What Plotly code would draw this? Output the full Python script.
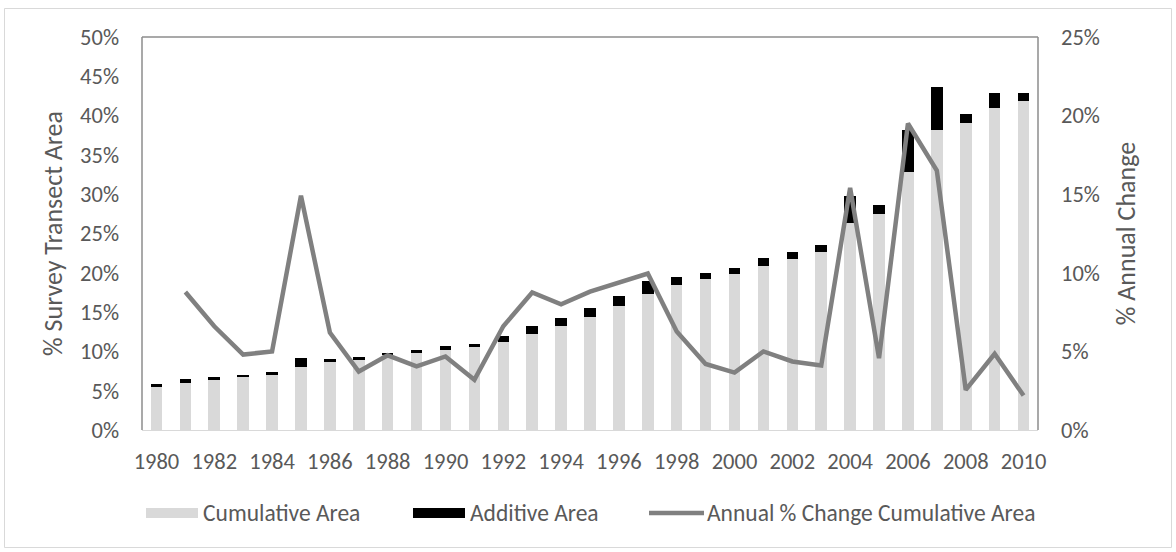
import plotly.graph_objects as go

years = list(range(1980, 2011))
cumulative_pct = [5.45, 5.96, 6.34, 6.72, 7.02, 8.07, 8.63, 8.97, 9.48, 9.82,
                  10.24, 10.59, 11.26, 12.24, 13.27, 14.37, 15.73, 17.35, 18.41, 19.22,
                  19.9, 20.83, 21.77, 22.7, 26.28, 27.42, 32.82, 38.2, 39.1, 41.0, 41.9]
additive_pct = [0.38, 0.54, 0.46, 0.33, 0.38, 1.07, 0.46, 0.34, 0.30, 0.34,
                0.47, 0.29, 0.73, 1.03, 0.93, 1.19, 1.36, 1.57, 1.07, 0.72,
                0.70, 1.07, 0.93, 0.90, 3.48, 1.19, 5.32, 5.40, 1.10, 1.90, 0.96]
change_years = list(range(1981, 2011))
annual_change_pct = [8.78, 6.6, 4.8, 5.0, 14.9, 6.2, 3.72, 4.75, 4.05, 4.68,
                     3.2, 6.6, 8.75, 8.0, 8.8, 9.4, 9.95, 6.27, 4.2, 3.65,
                     5.0, 4.36, 4.1, 15.4, 4.57, 19.5, 16.5, 2.55, 4.85, 2.19]

FONT = "Carlito, Calibri, Lato, sans-serif"
TXT = "#595959"
TICK_SIZE = 22.5
LEG_SIZE = 23.5
TITLE_SIZE = 26

fig = go.Figure()
fig.add_trace(go.Bar(x=years, y=[v / 100 for v in cumulative_pct], name="Cumulative Area",
                     marker=dict(color="#d9d9d9", line=dict(width=0)), yaxis="y"))
fig.add_trace(go.Bar(x=years, y=[v / 100 for v in additive_pct], name="Additive Area",
                     marker=dict(color="#000000", line=dict(width=0)), yaxis="y"))
fig.add_trace(go.Scatter(x=change_years, y=[v / 100 for v in annual_change_pct],
                         name="Annual % Change Cumulative Area", mode="lines",
                         line=dict(color="#808080", width=4.5), yaxis="y2"))

W, H = 1176, 552
L, R, T, B = 142, 138, 37, 122
pw, ph = W - L - R, H - T - B

def px_x(p):
    return (p - L) / pw

def px_y(p):
    return (H - B - p) / ph

shapes = [
    dict(type="rect", xref="paper", yref="paper", x0=px_x(4.5), x1=px_x(1171.5), y0=px_y(547.5), y1=px_y(8.5),
         line=dict(color="#d9d9d9", width=1), layer="below"),
    dict(type="line", xref="paper", yref="paper", x0=0, x1=0, y0=0, y1=1, line=dict(color="#8c8c8c", width=1.5)),
    dict(type="line", xref="paper", yref="paper", x0=0, x1=1, y0=1, y1=1, line=dict(color="#8c8c8c", width=1.5)),
    dict(type="line", xref="paper", yref="paper", x0=1, x1=1, y0=0, y1=1, line=dict(color="#8c8c8c", width=1.5)),
    dict(type="rect", xref="paper", yref="paper", x0=px_x(146), x1=px_x(198), y0=px_y(518), y1=px_y(508),
         fillcolor="#d9d9d9", line=dict(width=0)),
    dict(type="rect", xref="paper", yref="paper", x0=px_x(413), x1=px_x(465), y0=px_y(518), y1=px_y(508),
         fillcolor="#000000", line=dict(width=0)),
    dict(type="line", xref="paper", yref="paper", x0=px_x(649), x1=px_x(704), y0=px_y(513), y1=px_y(513),
         line=dict(color="#808080", width=4.5)),
]

annotations = [
    dict(text="Cumulative Area", x=px_x(201), y=px_y(513), xref="paper", yref="paper",
         xanchor="left", yanchor="middle", showarrow=False, font=dict(family=FONT, size=LEG_SIZE, color=TXT)),
    dict(text="Additive Area", x=px_x(468), y=px_y(513), xref="paper", yref="paper",
         xanchor="left", yanchor="middle", showarrow=False, font=dict(family=FONT, size=LEG_SIZE, color=TXT)),
    dict(text="Annual % Change Cumulative Area", x=px_x(705), y=px_y(513), xref="paper", yref="paper",
         xanchor="left", yanchor="middle", showarrow=False, font=dict(family=FONT, size=LEG_SIZE, color=TXT)),
]

fig.update_layout(
    width=W, height=H, autosize=False,
    barmode="stack",
    bargap=0.6,
    showlegend=False,
    plot_bgcolor="white",
    paper_bgcolor="white",
    margin=dict(l=L, r=R, t=T, b=B, autoexpand=False),
    font=dict(family=FONT, size=TICK_SIZE, color=TXT),
    xaxis=dict(range=[1979.5, 2010.5], tickmode="linear", tick0=1980, dtick=2,
               showgrid=False, zeroline=False, showline=True, linecolor="#d9d9d9", linewidth=1,
               ticks="", ticklabelstandoff=11, tickfont=dict(family=FONT, size=TICK_SIZE, color=TXT)),
    yaxis=dict(range=[0, 0.5], tickmode="linear", tick0=0, dtick=0.05, tickformat=".0%",
               showgrid=False, zeroline=False, showline=False, ticks="", ticklabelstandoff=22,
               tickfont=dict(family=FONT, size=TICK_SIZE, color=TXT),
               title=dict(text="% Survey Transect Area", font=dict(family=FONT, size=TITLE_SIZE, color=TXT), standoff=9)),
    yaxis2=dict(range=[0, 0.25], tickmode="linear", tick0=0, dtick=0.05, tickformat=".0%",
                overlaying="y", side="right", showgrid=False, zeroline=False, showline=False, ticks="",
                ticklabelstandoff=22, tickfont=dict(family=FONT, size=TICK_SIZE, color=TXT),
                title=dict(text="% Annual Change", font=dict(family=FONT, size=TITLE_SIZE, color=TXT), standoff=17)),
    shapes=shapes,
    annotations=annotations,
)

fig.write_html("out.html", config={"displayModeBar": False},
               post_script="document.body.style.margin='0px'; document.body.style.overflow='hidden';")
